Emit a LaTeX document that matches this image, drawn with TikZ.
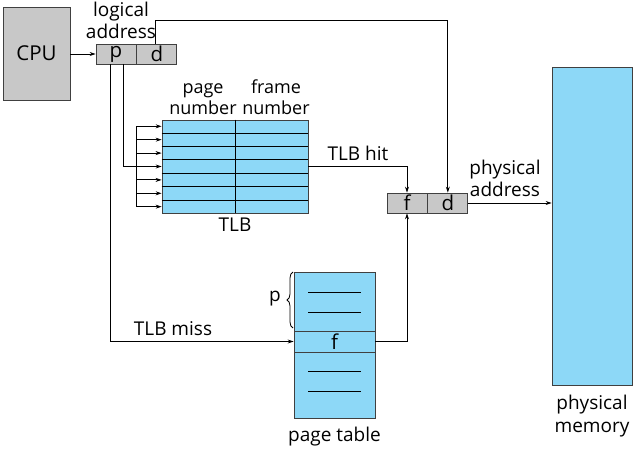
\documentclass[tikz,border=0pt]{standalone}
\usepackage{fontspec}
\setmainfont{Open Sans}
\usepackage{tikz}
\usetikzlibrary{arrows.meta,positioning,calc,decorations.pathreplacing}
\definecolor{regfill}{RGB}{200,200,200}
\definecolor{memfill}{RGB}{141,216,247}
\tikzset{
  regbox/.style ={rectangle, draw=black!75, line width=0.8pt, fill=regfill,
                  minimum width=40pt, minimum height=20pt, inner sep=0pt,
                  font=\fontsize{20.5}{22}\selectfont},
  membox/.style ={rectangle, draw=black!75, line width=0.8pt, fill=memfill,
                  inner sep=0pt, font=\fontsize{20.5}{22}\selectfont},
  lbl/.style    ={align=center, inner sep=1pt, font=\fontsize{19}{22}\selectfont},
  collbl/.style ={lbl, font=\fontsize{18}{21}\selectfont},
  wire/.style   ={draw=black, line width=0.8pt},
  link/.style   ={-{Stealth[length=6pt,width=4pt]}, wire}
}
\begin{document}
\begin{tikzpicture}[x=1pt,y=-1pt]
  \useasboundingbox (0,0) rectangle (633,449);
  % cpu and logical address
  \node[regbox, minimum width=67pt, minimum height=93pt] (cpu) at (36.5,53.5) {CPU};
  \node[regbox]                 (logp) at (116,54) {p};
  \node[regbox, right=0pt of logp] (logd) {d};
  \node[lbl] (loglbl) at (121,20) {logical\\address};
  \draw[link] (cpu.east |- logp.west) -- (logp.west);

  % TLB
  \node[membox, minimum width=146pt, minimum height=93pt] (tlb) at (235,166.5) {};
  \draw[wire] (tlb.north) -- (tlb.south);
  \foreach \i in {1,...,6}
    \draw[wire] ($(tlb.north west)!\i/7!(tlb.south west)$) -- ($(tlb.north east)!\i/7!(tlb.south east)$);
  \node[collbl, anchor=south] (pgnum) at (203,116) {page\\number};
  \node[collbl, anchor=south] (frnum) at (276,116) {frame\\number};
  \node[lbl, below=3pt of tlb] (tlblbl) {TLB};

  % fan of arrows into the rows
  \coordinate (fan) at (136,0);
  \foreach \i in {1,...,7} {
    \coordinate (row\i) at ($(tlb.north west)!{(\i-0.5)/7}!(tlb.south west)$);
    \draw[link] (fan |- row\i) -- (row\i);
  }
  \draw[wire] (fan |- row1) -- (fan |- row7);
  \draw[wire] ([xshift=7pt]logp.south) |- (fan |- row4);

  % physical address
  \node[regbox]                    (physf) at (407,203) {f};
  \node[regbox, right=0pt of physf] (physd) {d};
  \node[lbl] (physlbl) at (505,178) {physical\\address};
  \draw[link] ([xshift=-1pt]logd.north) -- ++(0,-23) -| (physd.north);
  \draw[link] (tlb.east |- row4) -| (physf.north);
  \node[lbl] (hitlbl) at (358,153) {TLB hit};

  % page table
  \node[membox, minimum width=81pt, minimum height=146pt] (ptab) at (334.5,345) {};
  \node[membox, minimum width=81pt, minimum height=21pt] (ptf) at (334.5,341.5) {f};
  \foreach \y in {292,312,371,391}
    \draw[wire] (308,\y) -- (361,\y);
  \draw[wire, decorate, decoration={brace, amplitude=6pt}] (293,328) -- (293,272);
  \node[lbl] (plbl) at (275,299) {p};
  \node[lbl, below=7pt of ptab] (ptlbl) {page table};
  \draw[link] ([xshift=-6pt]logp.south) |- (ptf.west);
  \node[lbl] (misslbl) at (173,329) {TLB miss};
  \draw[link] (ptf.east) -| (physf.south);

  % physical memory
  \node[membox, minimum width=80pt, minimum height=318pt] (mem) at (592,226) {};
  \node[lbl, below=8pt of mem, font=\fontsize{19}{23}\selectfont] (memlbl) {physical\\memory};
  \draw[link] (physd.east) -- (mem.west |- physd.east);
\end{tikzpicture}
\end{document}
